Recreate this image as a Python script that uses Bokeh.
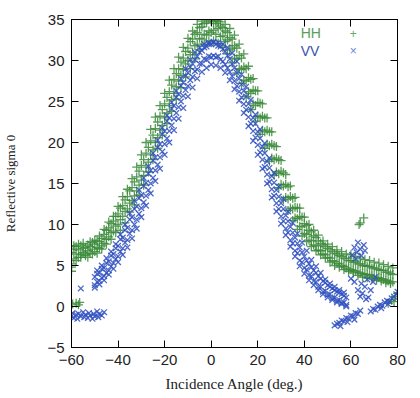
from bokeh.plotting import figure
from bokeh.models import (LinearAxis, Label, Range1d, FixedTicker, ColumnDataSource,
                          CustomLabelingPolicy)
from bokeh.embed import file_html
from bokeh.resources import INLINE

# ---------------- data ----------------
X_TICKS = [-60, -40, -20, 0, 20, 40, 60, 80]
Y_TICKS = [-5, 0, 5, 10, 15, 20, 25, 30, 35]

HH_ANGLE = [
    -60, -59, -58, -57, -56, -55, -54, -53, -52, -51,
    -50, -49, -48, -47, -46, -45, -44, -43, -42, -41,
    -40, -39, -38, -37, -36, -35, -34, -33, -32, -31,
    -30, -29, -28, -27, -26, -25, -24, -23, -22, -21,
    -20, -19, -18, -17, -16, -15, -14, -13, -12, -11,
    -10, -9, -8, -7, -6, -5, -4, -3, -2, -1,
    0, 1, 2, 3, 4, 5, 6, 7, 8, 9,
    10, 11, 12, 13, 14, 15, 16, 17, 18, 19,
    20, 21, 22, 23, 24, 25, 26, 27, 28, 29,
    30, 31, 32, 33, 34, 35, 36, 37, 38, 39,
    40, 41, 42, 43, 44, 45, 46, 47, 48, 49,
    50, 51, 52, 53, 54, 55, 56, 57, 58, 59,
    60, 61, 62, 63, 64, 65, 66, 67, 68, 69,
    70, 71, 72, 73, 74, 75, 76, 77, 78]
HH_Y1 = [
    6.6, 7.0, 6.4, 6.9, 7.4, 6.6, 7.2, 6.8, 7.3, 7.0,
    7.6, 7.2, 7.9, 8.3, 8.8, 8.2, 9.6, 9.0, 10.4, 9.8,
    11.3, 10.6, 12.3, 11.6, 13.4, 12.6, 14.5, 13.5, 15.8, 14.8,
    17.2, 16.0, 18.7, 17.6, 20.2, 19.1, 21.7, 20.6, 23.2, 22.1,
    24.7, 23.6, 26.2, 25.2, 27.7, 26.8, 29.0, 28.2, 30.3, 29.6,
    31.5, 30.7, 32.6, 31.8, 33.4, 32.7, 34.1, 33.2, 34.6, 33.6,
    34.8, 33.7, 34.5, 33.9, 34.2, 33.0, 33.6, 32.5, 32.8, 31.5,
    31.8, 30.2, 30.6, 28.9, 29.2, 27.5, 27.9, 26.0, 26.4, 24.5,
    24.9, 23.0, 23.2, 21.3, 21.5, 19.6, 19.8, 17.9, 18.1, 16.2,
    16.5, 14.7, 14.9, 13.1, 13.4, 11.9, 12.1, 10.7, 11.0, 9.7,
    10.1, 8.8, 9.3, 8.0, 8.6, 7.4, 8.0, 6.8, 7.5, 6.3,
    7.1, 5.9, 6.7, 5.5, 6.4, 5.2, 6.1, 4.9, 5.8, 4.6,
    5.6, 4.4, 5.4, 4.2, 5.2, 4.0, 5.0, 3.9, 4.9, 3.7,
    4.7, 3.5, 4.5, 3.4, 4.4, 3.2, 4.2, 3.0, 3.9]
HH_Y2 = [
    5.2, 5.8, 7.3, 6.0, 6.3, 7.1, 6.4, 7.5, 6.5, 7.8,
    6.7, 8.0, 7.1, 7.4, 7.7, 9.3, 8.5, 10.1, 9.2, 11.0,
    10.0, 12.0, 11.0, 13.0, 11.9, 14.1, 12.9, 15.2, 14.1, 16.5,
    15.4, 17.9, 17.0, 19.4, 18.5, 20.9, 20.0, 22.5, 21.5, 24.0,
    23.0, 25.5, 24.5, 27.0, 26.0, 28.4, 27.5, 29.8, 28.9, 31.1,
    30.0, 32.3, 31.0, 33.2, 32.0, 34.0, 32.6, 34.5, 33.1, 35.0,
    33.4, 34.7, 33.2, 34.8, 32.9, 34.0, 32.3, 33.4, 31.3, 32.6,
    30.3, 31.5, 29.0, 30.3, 27.6, 29.0, 26.2, 27.7, 24.7, 26.3,
    23.2, 24.8, 21.5, 23.0, 19.8, 21.3, 18.1, 19.6, 16.4, 17.9,
    14.9, 16.3, 13.3, 14.6, 12.0, 13.2, 10.8, 12.0, 9.8, 10.9,
    8.9, 9.9, 8.1, 9.1, 7.5, 8.4, 6.9, 7.7, 6.4, 7.3,
    6.0, 6.9, 5.6, 6.5, 5.3, 6.2, 5.0, 5.9, 4.7, 5.6,
    4.5, 5.4, 4.3, 5.2, 4.1, 5.0, 3.9, 4.9, 3.8, 4.7,
    3.6, 4.6, 3.5, 4.4, 3.3, 4.2, 3.1, 4.0, 3.0]
HH_Y3 = [
    4.8, 7.4, 5.6, 7.6, 6.0, 7.7, 6.2, 6.0, 7.9, 6.4,
    8.1, 6.5, 8.6, 7.0, 9.4, 7.6, 10.3, 8.2, 11.0, 9.0,
    12.2, 9.3, 13.4, 10.2, 14.3, 11.5, 15.6, 12.4, 17.0, 13.6,
    18.5, 14.8, 20.0, 16.4, 21.6, 17.9, 23.1, 19.3, 24.5, 20.9,
    26.0, 22.3, 27.6, 23.8, 29.0, 25.3, 30.4, 26.7, 31.6, 28.0,
    32.7, 29.0, 33.6, 30.2, 34.4, 31.3, 34.8, 32.0, 35.0, 32.4,
    35.0, 32.4, 34.9, 32.1, 34.7, 31.6, 34.4, 30.8, 33.9, 29.7,
    33.1, 28.5, 32.0, 27.2, 30.8, 25.6, 29.3, 24.0, 27.8, 22.6,
    26.3, 21.0, 24.7, 19.3, 23.0, 17.7, 21.3, 16.0, 19.5, 14.5,
    17.8, 13.0, 16.1, 11.7, 14.7, 10.5, 13.3, 9.4, 12.0, 8.6,
    10.9, 7.9, 10.0, 7.3, 9.3, 6.8, 8.7, 6.3, 8.0, 5.9,
    7.6, 5.4, 7.3, 5.0, 6.9, 4.8, 6.7, 4.5, 6.4, 4.3,
    6.3, 4.1, 6.1, 3.8, 5.9, 3.6, 5.7, 3.5, 5.6, 3.4,
    5.4, 3.2, 5.3, 3.1, 5.1, 2.9, 4.9, 2.8, 4.7]
HH_EXTRA_X = [-60, -60, -59.5, -58, -57, -56.5, 63.5, 64, 65.5, 76, 77.5, 78.5, 79, 80]
HH_EXTRA_Y = [4.3, 7.4, 0.3, 0.4, 0.2, 0.5, 10.0, 10.2, 10.8, 0.4, 0.8, 0.6, 1.2, 1.6]

VV_ANGLE = [
    -50, -49, -48, -47, -46, -45, -44, -43, -42, -41,
    -40, -39, -38, -37, -36, -35, -34, -33, -32, -31,
    -30, -29, -28, -27, -26, -25, -24, -23, -22, -21,
    -20, -19, -18, -17, -16, -15, -14, -13, -12, -11,
    -10, -9, -8, -7, -6, -5, -4, -3, -2, -1,
    0, 1, 2, 3, 4, 5, 6, 7, 8, 9,
    10, 11, 12, 13, 14, 15, 16, 17, 18, 19,
    20, 21, 22, 23, 24, 25, 26, 27, 28, 29,
    30, 31, 32, 33, 34, 35, 36, 37, 38, 39,
    40, 41, 42, 43, 44, 45, 46, 47, 48, 49,
    50, 51, 52, 53, 54, 55, 56, 57, 58]
VV_Y1 = [
    3.6, 3.0, 4.1, 3.5, 4.7, 4.1, 5.5, 4.9, 6.4, 5.8,
    7.4, 6.7, 8.4, 7.8, 9.6, 8.9, 10.9, 10.0, 12.2, 11.3,
    13.6, 12.7, 15.1, 14.2, 16.6, 15.7, 18.2, 17.3, 19.8, 18.9,
    21.4, 20.5, 23.0, 22.1, 24.5, 23.6, 25.9, 25.0, 27.3, 26.4,
    28.5, 27.6, 29.6, 28.7, 30.5, 29.6, 31.2, 30.2, 31.7, 30.5,
    32.0, 30.6, 32.0, 30.5, 31.7, 29.9, 31.1, 29.1, 30.2, 28.1,
    29.1, 26.9, 27.8, 25.5, 26.3, 24.0, 24.7, 22.3, 23.0, 20.6,
    21.3, 18.8, 19.5, 17.0, 17.7, 15.2, 15.9, 13.5, 14.2, 11.9,
    12.6, 10.4, 11.1, 9.0, 9.7, 7.7, 8.4, 6.5, 7.2, 5.4,
    6.1, 4.5, 5.2, 3.7, 4.4, 3.0, 3.7, 2.4, 3.1, 1.9,
    2.6, 1.5, 2.2, 1.1, 1.8, 0.8, 1.5, 0.5, 1.1]
VV_Y2 = [
    2.6, 4.0, 3.1, 4.6, 3.7, 5.3, 4.4, 6.2, 5.3, 7.1,
    6.1, 8.2, 7.1, 9.3, 8.1, 10.6, 9.3, 11.9, 10.6, 13.2,
    12.0, 14.7, 13.5, 16.2, 15.0, 17.8, 16.6, 19.4, 18.2, 21.0,
    19.8, 22.6, 21.4, 24.1, 22.9, 25.5, 24.3, 26.9, 25.7, 28.1,
    26.9, 29.2, 28.0, 30.1, 28.9, 31.0, 29.6, 31.6, 30.1, 32.0,
    30.4, 32.2, 30.4, 31.8, 30.1, 31.4, 29.5, 30.6, 28.6, 29.6,
    27.5, 28.5, 26.2, 27.1, 24.7, 25.6, 23.1, 24.0, 21.4, 22.3,
    19.7, 20.5, 17.9, 18.7, 16.1, 16.9, 14.3, 15.1, 12.6, 13.4,
    11.0, 11.9, 9.5, 10.4, 8.1, 9.0, 6.8, 7.7, 5.6, 6.6,
    4.7, 5.6, 3.8, 4.8, 3.1, 4.1, 2.4, 3.4, 1.8, 2.9,
    1.4, 2.4, 1.0, 2.0, 0.7, 1.7, 0.4, 1.3, 0.2]
VV_Y3 = [
    2.3, 4.4, 2.7, 5.0, 3.2, 5.9, 3.9, 6.7, 4.6, 7.6,
    5.4, 8.8, 6.3, 10.0, 7.2, 11.4, 8.3, 12.9, 9.5, 14.2,
    10.9, 15.7, 12.3, 17.1, 13.8, 18.7, 15.3, 20.3, 16.8, 21.8,
    18.5, 23.3, 20.0, 24.9, 21.5, 26.3, 22.9, 27.8, 24.2, 29.0,
    25.6, 30.1, 26.7, 31.0, 27.8, 31.6, 28.6, 32.0, 29.1, 32.2,
    29.5, 32.3, 29.4, 32.2, 29.1, 32.0, 28.5, 31.6, 27.6, 30.9,
    26.5, 29.9, 25.1, 28.3, 23.6, 26.8, 22.0, 25.2, 20.2, 23.4,
    18.5, 21.6, 16.8, 19.9, 15.0, 18.1, 13.3, 16.3, 11.6, 14.6,
    10.1, 13.1, 8.7, 11.6, 7.3, 10.2, 6.1, 8.9, 4.9, 7.8,
    4.0, 6.8, 3.2, 5.7, 2.6, 4.9, 2.0, 4.1, 1.5, 3.3,
    1.1, 2.8, 0.8, 2.4, 0.5, 2.0, 0.3, 1.7, 0.0]
VV_EXTRA_X = [
    -60, -59.5, -59, -58, -57.5, -57, -56, -55, -54.5, -54, -53, -52.5, -52,
    -51, -50.5, -50, -49, -48.5, -48, -47, -46, -56,
    60.5, 61.5, 62.5, 63, 64, 64.5, 65.5, 66, 62,
    63, 64, 64.5, 65, 66, 67, 67.5, 68.5, 69.5, 70.5, 66.5, 61.5, 60,
    53, 54, 55, 56, 57, 58, 59, 60, 61, 62, 63, 64, 55.5, 58.5, 61.5,
    68.5, 69.5, 70.5, 71.5, 72.5, 73.5, 74.5, 75.5, 76.5, 77.5, 78.5, 79.5, 80, 73, 76]
VV_EXTRA_Y = [
    -1.2, -0.8, -1.4, -1.0, -1.5, -0.9, -1.2, -0.7, -1.3, -1.0, -1.4, -0.8, -1.1,
    -1.5, -0.9, -1.2, -0.6, -1.3, -0.9, -1.1, -0.7, 2.2,
    6.3, 7.2, 6.6, 7.8, 7.0, 6.2, 7.5, 6.8, 5.8,
    2.0, 1.2, 2.8, 1.6, 2.4, 3.3, 1.1, 2.0, 3.0, 3.6, 0.9, 3.0, 3.4,
    -2.3, -2.1, -2.0, -1.7, -1.8, -1.4, -1.5, -1.1, -1.2, -0.8, -0.9, -0.5, -2.4, -1.9, -1.6,
    -0.6, -0.3, -0.4, 0.0, 0.2, 0.1, 0.5, 0.7, 0.6, 1.0, 1.2, 1.5, 1.8, -0.2, 0.3]

GREEN = "#3a8a3a"
BLUE = "#2f50c0"

# ---------------- figure ----------------
p = figure(width=410, height=396, x_range=Range1d(-60, 80), y_range=Range1d(-5, 35),
           output_backend="svg", toolbar_location=None,
           min_border_left=68, min_border_right=13, min_border_top=19, min_border_bottom=49)
p.background_fill_color = "white"
p.border_fill_color = "white"
p.xgrid.visible = False
p.ygrid.visible = False
p.outline_line_color = "black"
p.outline_line_width = 1

hh_x = HH_ANGLE + HH_ANGLE + HH_ANGLE + HH_EXTRA_X
hh_y = HH_Y1 + HH_Y2 + HH_Y3 + HH_EXTRA_Y
vv_x = VV_ANGLE + VV_ANGLE + VV_ANGLE + VV_EXTRA_X
vv_y = VV_Y1 + VV_Y2 + VV_Y3 + VV_EXTRA_Y

p.scatter(x="x", y="y", source=ColumnDataSource(dict(x=hh_x, y=hh_y)), marker="cross",
          size=9, line_color=GREEN, line_width=1.3, line_alpha=0.85)
p.scatter(x="x", y="y", source=ColumnDataSource(dict(x=vv_x, y=vv_y)), marker="x",
          size=8, line_color=BLUE, line_width=1.3, line_alpha=0.85)

TICK_FONT = "Liberation Sans"
LABEL_FONT = "Liberation Serif"

for ax, ticks in ((p.xaxis[0], X_TICKS), (p.yaxis[0], Y_TICKS)):
    ax.ticker = FixedTicker(ticks=ticks)
    ax.major_tick_in = 7
    ax.major_tick_out = 0
    ax.minor_tick_line_color = None
    ax.axis_line_color = "black"
    ax.major_tick_line_color = "black"
    ax.major_label_text_font = TICK_FONT
    ax.major_label_text_font_size = "15px"
    ax.major_label_text_color = "#222222"
    ax.major_label_standoff = 7
    ax.axis_label_text_font = LABEL_FONT
    ax.axis_label_text_font_style = "normal"
    ax.axis_label_text_color = "#222222"

p.xaxis.axis_label = "Incidence Angle (deg.)"
p.xaxis.axis_label_text_font_size = "15px"
p.xaxis.axis_label_standoff = 8
p.yaxis.axis_label = "Reflective sigma 0"
p.yaxis.axis_label_text_font_size = "13px"
p.yaxis.axis_label_standoff = 26

no_labels = CustomLabelingPolicy(code="return new Set()")
top = LinearAxis(ticker=FixedTicker(ticks=X_TICKS), major_tick_in=7, major_tick_out=0,
                 minor_tick_line_color=None, major_label_text_color=None,
                 major_label_policy=no_labels, major_label_standoff=0)
right = LinearAxis(ticker=FixedTicker(ticks=Y_TICKS), major_tick_in=7, major_tick_out=0,
                   minor_tick_line_color=None, major_label_text_color=None,
                   major_label_policy=no_labels, major_label_standoff=0)
p.add_layout(top, "above")
p.add_layout(right, "right")

# legend in gnuplot style: text then sample
p.add_layout(Label(x=38.4, y=33.3, text="HH", text_color="#5a9e5a", text_font=TICK_FONT,
                   text_font_size="14px", text_baseline="middle"))
p.add_layout(Label(x=61.0, y=33.3, text="+", text_color="#6aaa6a", text_font=TICK_FONT,
                   text_font_size="12px", text_baseline="middle", text_align="center"))
p.add_layout(Label(x=38.4, y=31.2, text="VV", text_color="#3a50b0", text_font=TICK_FONT,
                   text_font_size="14px", text_baseline="middle"))
p.add_layout(Label(x=61.0, y=31.2, text="\u00d7", text_color="#6f88d8", text_font=TICK_FONT,
                   text_font_size="12px", text_baseline="middle", text_align="center"))

open("out.html", "w").write(file_html(p, INLINE))
